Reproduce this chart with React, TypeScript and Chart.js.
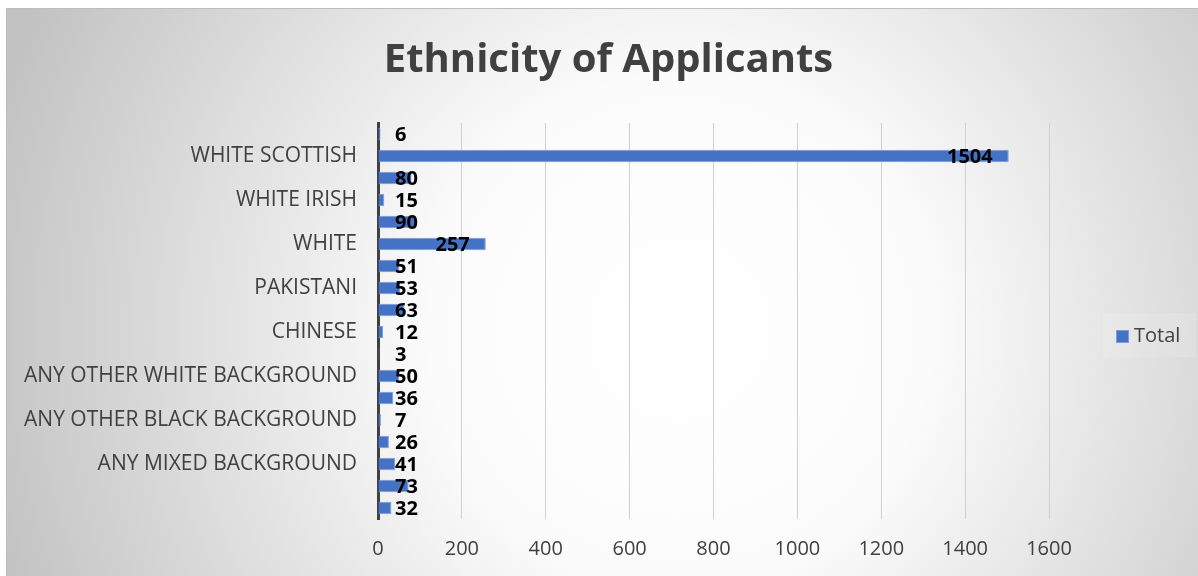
import React, { useEffect, useRef } from "react";
import { Chart, registerables } from "chart.js";

Chart.register(...registerables);

const chartTitle = "Ethnicity of Applicants";
const seriesName = "Total";

// top-to-bottom order as drawn
const categories = [
  "WHITE WELSH",
  "WHITE SCOTTISH",
  "WHITE OTHER BRITISH",
  "WHITE IRISH",
  "WHITE ENGLISH",
  "WHITE",
  "PREFER NOT TO SAY",
  "PAKISTANI",
  "INDIAN",
  "CHINESE",
  "CARIBBEAN",
  "ANY OTHER WHITE BACKGROUND",
  "ANY OTHER ETHNIC BACKGROUND",
  "ANY OTHER BLACK BACKGROUND",
  "ANY OTHER ASIAN BACKGROUND",
  "ANY MIXED BACKGROUND",
  "ANY ASIAN BACKGROUND",
  "AFRICAN",
];

const totals = [6, 1504, 80, 15, 90, 257, 51, 53, 63, 12, 3, 50, 36, 7, 26, 41, 73, 32];

// which category labels Excel shows on the axis
const shownLabelIndices = [1, 3, 5, 7, 9, 11, 13, 15];

const xMin = 0;
const xMax = 1600;
const xStep = 200;

const FONT = "'Open Sans', 'DejaVu Sans', sans-serif";
const TEXT = "#404040";
const BAR = "#4472C4";
const BAR_EDGE = "#7c9bd8";

const backgroundPlugin = {
  id: "excelBackground",
  beforeDraw(chart: any) {
    const { ctx, width, height } = chart;
    ctx.save();
    ctx.fillStyle = "#ffffff";
    ctx.fillRect(0, 0, width, height);
    const g = ctx.createRadialGradient(680, 330, 0, 680, 330, 720);
    g.addColorStop(0, "#ffffff");
    g.addColorStop(0.35, "#fbfbfb");
    g.addColorStop(1, "#c2c2c2");
    ctx.fillStyle = g;
    ctx.fillRect(6, 8, width - 6, height - 8);
    ctx.strokeStyle = "#bdbdbd";
    ctx.lineWidth = 1;
    ctx.beginPath();
    ctx.moveTo(6.5, height);
    ctx.lineTo(6.5, 8.5);
    ctx.lineTo(width, 8.5);
    ctx.stroke();
    ctx.restore();
  },
};

const labelsAndLegendPlugin = {
  id: "labelsAndLegend",
  afterDatasetsDraw(chart: any) {
    const { ctx, chartArea } = chart;
    const meta = chart.getDatasetMeta(0);
    ctx.save();
    ctx.font = `bold 20px ${FONT}`;
    ctx.fillStyle = "#000000";
    ctx.textAlign = "right";
    ctx.textBaseline = "middle";
    meta.data.forEach((bar: any, i: number) => {
      const txt = String(chart.data.datasets[0].data[i]);
      const w = ctx.measureText(txt).width;
      const right = Math.max(bar.x - 16, chartArea.left + 17 + w);
      ctx.fillText(txt, right, bar.y + 1);
    });
    ctx.restore();
  },
  afterDraw(chart: any) {
    const { ctx } = chart;
    ctx.save();
    ctx.fillStyle = "rgba(255,255,255,0.12)";
    ctx.fillRect(1103, 313, 93, 44);
    ctx.fillStyle = BAR;
    ctx.strokeStyle = BAR_EDGE;
    ctx.lineWidth = 1;
    ctx.fillRect(1116, 330, 12, 12);
    ctx.strokeRect(1116.5, 330.5, 12, 12);
    ctx.font = `20px ${FONT}`;
    ctx.fillStyle = TEXT;
    ctx.textAlign = "left";
    ctx.textBaseline = "middle";
    ctx.fillText(seriesName, 1134, 336);
    ctx.restore();
  },
};

export default function App() {
  const ref = useRef<HTMLCanvasElement | null>(null);

  useEffect(() => {
    if (!ref.current) return;
    const chart = new Chart(ref.current, {
      type: "bar",
      data: {
        labels: categories,
        datasets: [
          {
            label: seriesName,
            data: totals,
            backgroundColor: BAR,
            borderColor: BAR_EDGE,
            borderWidth: 1,
            barPercentage: 0.56,
            categoryPercentage: 1,
          },
        ],
      },
      options: {
        indexAxis: "y",
        responsive: false,
        animation: false,
        layout: { padding: { left: 19, right: 0, top: 0, bottom: 0 } },
        plugins: {
          legend: { display: false },
          tooltip: { enabled: false },
          title: {
            display: true,
            text: chartTitle,
            color: TEXT,
            font: { family: FONT, size: 40, weight: "bold", lineHeight: 1.2 },
            padding: { top: 37, bottom: 38 },
          },
        },
        scales: {
          x: {
            min: xMin,
            max: xMax,
            ticks: {
              stepSize: xStep,
              color: TEXT,
              font: { family: FONT, size: 20 },
              padding: 18,
              callback: (value: any) => String(value),
            },
            grid: { color: "#d0d0d0", lineWidth: 1, drawTicks: false },
            border: { display: false },
            afterFit(scale: any) {
              scale.height = 57;
            },
          },
          y: {
            ticks: {
              autoSkip: false,
              color: TEXT,
              font: { family: FONT, size: 21 },
              padding: 21,
              callback: function (this: any, value: any, index: number) {
                return shownLabelIndices.includes(index) ? this.getLabelForValue(value) : "";
              },
            },
            grid: { display: false, drawTicks: false },
            border: { display: true, color: "#404040", width: 3 },
            afterFit(scale: any) {
              scale.width = 359;
            },
          },
          // empty right-hand gutter that holds the legend area
          legendGutter: {
            type: "linear",
            position: "right",
            display: true,
            ticks: { display: false },
            grid: { display: false, drawTicks: false },
            border: { display: false },
            afterFit(scale: any) {
              scale.width = 149;
            },
          },
        },
      },
      plugins: [backgroundPlugin, labelsAndLegendPlugin],
    } as any);
    return () => chart.destroy();
  }, []);

  return (
    <div style={{ position: "absolute", left: 0, top: 0, width: 1198, height: 576 }}>
      <canvas ref={ref} width={1198} height={576} />
    </div>
  );
}
